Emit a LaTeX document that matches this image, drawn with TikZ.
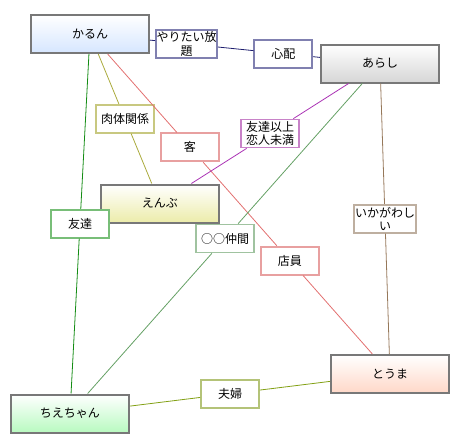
\documentclass[tikz,border=0pt]{standalone}
\usepackage{fontspec}
\newfontfamily\jpfont{Noto Sans CJK JP}
\usepackage{tikz}
\usetikzlibrary{calc}

\definecolor{nodeline}{RGB}{120,120,120}
\definecolor{karunfill}{RGB}{214,230,255}
\definecolor{arashifill}{RGB}{214,214,214}
\definecolor{enbufill}{RGB}{236,236,170}
\definecolor{chiefill}{RGB}{184,250,192}
\definecolor{toumafill}{RGB}{255,216,200}
\definecolor{navyline}{RGB}{30,30,110}
\definecolor{navyedge}{RGB}{128,128,176}
\definecolor{oliveline}{RGB}{170,170,60}
\definecolor{oliveedge}{RGB}{200,200,128}
\definecolor{redline}{RGB}{226,112,112}
\definecolor{rededge}{RGB}{232,160,160}
\definecolor{purpline}{RGB}{170,50,180}
\definecolor{purpedge}{RGB}{200,130,200}
\definecolor{greenline}{RGB}{20,140,20}
\definecolor{greenedge}{RGB}{120,190,120}
\definecolor{paleline}{RGB}{100,160,100}
\definecolor{paleedge}{RGB}{160,195,160}
\definecolor{brownline}{RGB}{150,120,90}
\definecolor{brownedge}{RGB}{190,175,160}
\definecolor{fuline}{RGB}{130,160,20}
\definecolor{fuedge}{RGB}{180,195,120}

\begin{document}
\begin{tikzpicture}[
    x=0.75pt, y=-0.75pt,
    font=\jpfont\fontsize{9}{10}\selectfont,
    person/.style={draw=nodeline, line width=1.5pt, minimum width=88.5pt, minimum height=28.5pt, top color=white},
    rel/.style={draw, fill=white, line width=1.3pt, minimum width=43.5pt, minimum height=21pt, inner sep=0.5pt, align=center},
    link/.style={line width=0.6pt},
]

\useasboundingbox (0,0) rectangle (465,446);

\node[person, bottom color=karunfill]  (karun)  at (90,34)    {かるん};
\node[person, bottom color=arashifill] (arashi) at (380,63.5) {あらし};
\node[person, bottom color=enbufill]   (enbu)   at (160,203.5) {えんぶ};
\node[person, bottom color=chiefill]   (chie)   at (70,413.5) {ちえちゃん};
\node[person, bottom color=toumafill]  (touma)  at (390,374)  {とうま};

\node[rel, draw=navyedge]  (yaritai) at ($(karun)!1/3!(arashi)$) {やりたい放\\題};
\node[rel, draw=navyedge]  (shinpai) at ($(karun)!2/3!(arashi)$) {心配};
\node[rel, draw=oliveedge] (nikutai) at ($(karun)!0.5!(enbu)$)   {肉体関係};
\node[rel, draw=rededge]   (kyaku)   at ($(karun)!1/3!(touma)$)  {客};
\node[rel, draw=rededge]   (tenin)   at ($(karun)!2/3!(touma)$)  {店員};
\node[rel, draw=purpedge]  (ijou)    at ($(arashi)!0.5!(enbu)$)  {友達以上\\恋人未満};
\node[rel, draw=greenedge] (tomo)    at ($(karun)!0.5!(chie)$)   {友達};
\node[rel, draw=paleedge]  (nakama)  at ($(arashi)!0.5!(chie)$)  {○○仲間};
\node[rel, draw=brownedge] (ikaga)   at ($(arashi)!0.5!(touma)$) {いかがわし\\い};
\node[rel, draw=fuedge]    (fuufu)   at ($(chie)!0.5!(touma)$)   {夫婦};

\draw[link, navyline]  (karun)  -- (yaritai) -- (shinpai) -- (arashi);
\draw[link, oliveline] (karun)  -- (nikutai) -- (enbu);
\draw[link, redline]   (karun)  -- (kyaku) -- (tenin) -- (touma);
\draw[link, purpline]  (arashi) -- (ijou) -- (enbu);
\draw[link, greenline] (karun)  -- (tomo) -- (chie);
\draw[link, paleline]  (arashi) -- (nakama) -- (chie);
\draw[link, brownline] (arashi) -- (ikaga) -- (touma);
\draw[link, fuline]    (chie)   -- (fuufu) -- (touma);

\end{tikzpicture}
\end{document}
